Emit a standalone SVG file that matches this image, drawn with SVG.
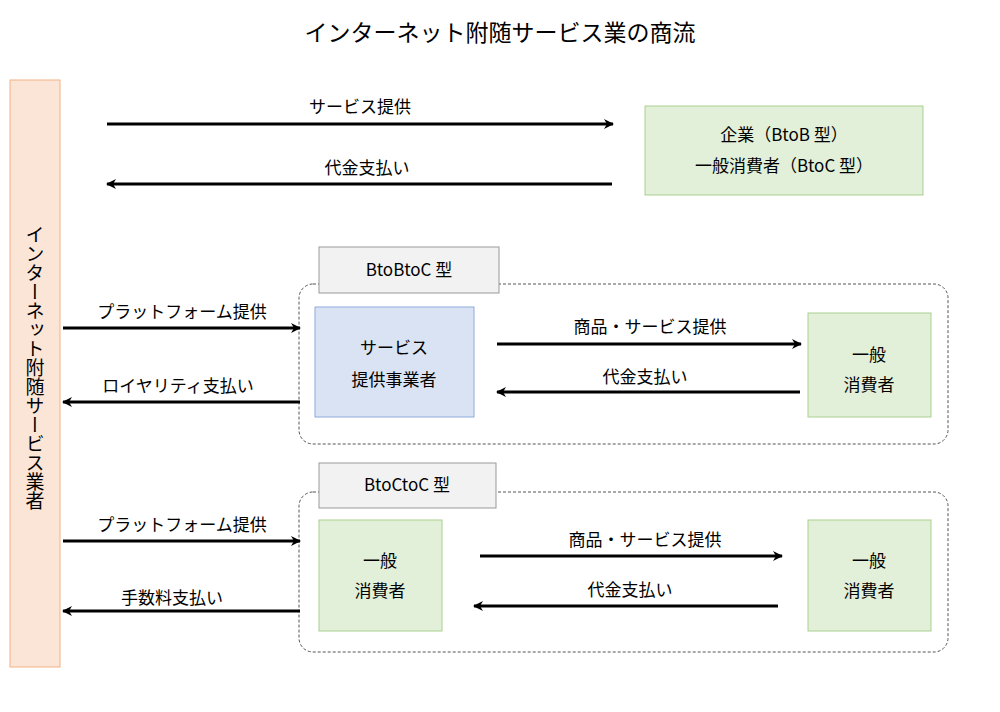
<svg xmlns="http://www.w3.org/2000/svg" width="1000" height="712" viewBox="0 0 1000 712">
<defs>
<marker id="ah" markerWidth="10" markerHeight="10" refX="9" refY="5" orient="auto" markerUnits="userSpaceOnUse"><path d="M0,0 L10,5 L0,10 L3,5 Z" fill="#000"/></marker>
<style>
text{font-family:"Noto Sans CJK JP","Noto Sans",sans-serif;fill:#000;text-anchor:middle}
.t{font-size:17px}
.g{fill:#e2efd9;stroke:#a9d08e;stroke-width:1}
.c line{stroke:#000;stroke-width:3;marker-end:url(#ah)}
.d{fill:none;stroke:#555;stroke-width:1;stroke-dasharray:3,2}
.lb{fill:#f2f2f2;stroke:#999;stroke-width:1}
</style>
</defs>
<rect width="1000" height="712" fill="#fff"/>
<text x="500" y="41" style="font-size:23px">インターネット附随サービス業の商流</text>
<g id="provider"><rect x="10" y="80" width="50" height="587" fill="#fbe5d6" stroke="#f4b183"/>
<text x="35" y="225" class="t" style="writing-mode:tb;font-size:19px;text-anchor:start">インターネット附随サービス業者</text></g>
<g id="enduser"><rect x="645" y="106" width="278" height="89" class="g"/>
<text x="784" y="141" class="t">企業（BtoB 型）</text><text x="784" y="172" class="t">一般消費者（BtoC 型）</text></g>
<g id="btobtoc"><rect x="299" y="284" width="649" height="160" rx="14" class="d"/>
<rect x="319" y="247" width="180" height="46" class="lb"/><text x="409" y="276" class="t">BtoBtoC 型</text></g>
<g id="svcprov"><rect x="315" y="307" width="159" height="110" fill="#dae3f3" stroke="#8faadc"/>
<text x="394" y="354" class="t">サービス</text><text x="394" y="386" class="t">提供事業者</text></g>
<g id="cons1"><rect x="808" y="313" width="123" height="104" class="g"/>
<text x="869" y="361" class="t">一般</text><text x="869" y="391" class="t">消費者</text></g>
<g id="btoctoc"><rect x="299" y="492" width="649" height="160" rx="14" class="d"/>
<rect x="319" y="463" width="177" height="45" class="lb"/><text x="407" y="491" class="t">BtoCtoC 型</text></g>
<g id="cons2"><rect x="319" y="520" width="123" height="111" class="g"/>
<text x="380" y="567" class="t">一般</text><text x="380" y="597" class="t">消費者</text></g>
<g id="cons3"><rect x="808" y="520" width="123" height="111" class="g"/>
<text x="869" y="567" class="t">一般</text><text x="869" y="597" class="t">消費者</text></g>
<g id="connectors" class="c">
<line x1="107" y1="124" x2="613" y2="124"/><text x="360" y="113" class="t">サービス提供</text>
<line x1="612" y1="184" x2="107" y2="184"/><text x="367" y="174" class="t">代金支払い</text>
<line x1="63" y1="328" x2="300" y2="328"/><text x="182" y="318" class="t">プラットフォーム提供</text>
<line x1="300" y1="402" x2="63" y2="402"/><text x="178" y="392" class="t">ロイヤリティ支払い</text>
<line x1="497" y1="344" x2="801" y2="344"/><text x="650" y="333" class="t">商品・サービス提供</text>
<line x1="800" y1="392" x2="497" y2="392"/><text x="645" y="383" class="t">代金支払い</text>
<line x1="63" y1="541" x2="300" y2="541"/><text x="182" y="531" class="t">プラットフォーム提供</text>
<line x1="300" y1="611" x2="63" y2="611"/><text x="172" y="604" class="t">手数料支払い</text>
<line x1="480" y1="556" x2="782" y2="556"/><text x="645" y="546" class="t">商品・サービス提供</text>
<line x1="778" y1="606" x2="474" y2="606"/><text x="630" y="596" class="t">代金支払い</text>
</g>
</svg>
